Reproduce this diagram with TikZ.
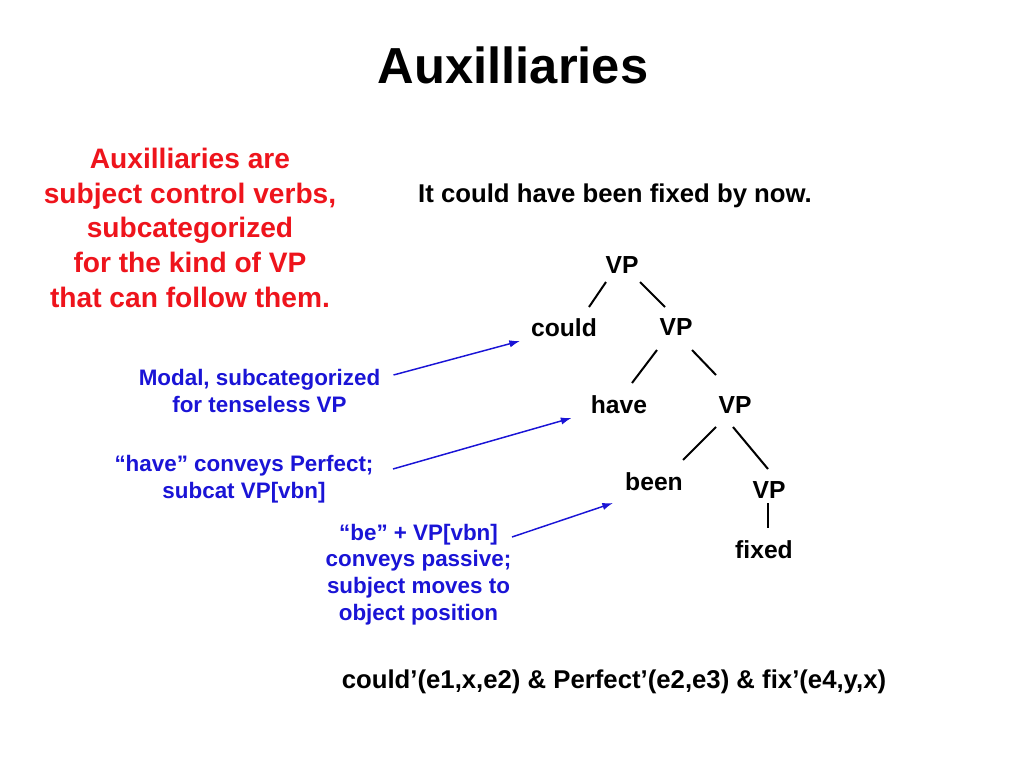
\documentclass[tikz,border=0pt]{standalone}
\usepackage{fontspec}
\setmainfont{Liberation Sans}
\usetikzlibrary{arrows.meta}

\definecolor{claimred}{RGB}{238,20,28}
\definecolor{noteblue}{RGB}{26,20,214}

\begin{document}
\begin{tikzpicture}[x=0.75pt,y=-0.75pt]

      \useasboundingbox (0,0) rectangle (1024,768);

      \node[anchor=base,font=\bfseries\fontsize{38}{44}\selectfont] (title) at (513,83) {Auxilliaries};

      % multi-line nodes: base is the baseline of the last line
      \node[anchor=base,align=center,text=claimred,font=\bfseries\fontsize{21.1}{25.9}\selectfont]
        (claim) at (190,307) {Auxilliaries are\\subject control verbs,\\subcategorized\\for the kind of VP\\that can follow them.};

      \node[anchor=base,font=\bfseries\fontsize{19.3}{23}\selectfont] (sentence) at (615,202) {It could have been fixed by now.};

      \begin{scope}[every node/.style={inner sep=0pt,font=\bfseries\fontsize{18.5}{22}\selectfont}]
        \node (vp1)   at (622,265) {VP};
        \node (could) at (564,328) {could};
        \node (vp2)   at (676,327) {VP};
        \node (have)  at (619,405) {have};
        \node (vp3)   at (735,405) {VP};
        \node (been)  at (654,482) {been};
        \node (vp4)   at (769,490) {VP};
        \node (fixed) at (764,550) {fixed};
      \end{scope}

      \begin{scope}[every node/.style={anchor=base,align=center,text=noteblue,font=\bfseries\fontsize{16.8}{19.9}\selectfont}]
        \node (modal)   at (259.5,412) {Modal, subcategorized\\for tenseless VP};
        \node (perfect) at (244,498) {``have'' conveys Perfect;\\subcat VP[vbn]};
        \node (passive) at (418.5,620) {``be'' + VP[vbn]\\conveys passive;\\subject moves to\\object position};
      \end{scope}

      \node[anchor=base,font=\bfseries\fontsize{19.3}{23}\selectfont] (logic) at (614,688)
        {could’(e1,x,e2) \& Perfect’(e2,e3) \& fix’(e4,y,x)};

      \begin{scope}[line width=1.5pt]
        \draw ([shift={(-16,17)}]vp1.center) -- ([shift={(25,-21)}]could.center);
        \draw ([shift={(18,17)}]vp1.center)  -- ([shift={(-11,-20)}]vp2.center);
        \draw ([shift={(-19,23)}]vp2.center) -- ([shift={(13,-22)}]have.center);
        \draw ([shift={(16,23)}]vp2.center)  -- ([shift={(-19,-30)}]vp3.center);
        \draw ([shift={(-19,22)}]vp3.center) -- ([shift={(29,-22)}]been.center);
        \draw ([shift={(-2,22)}]vp3.center)  -- ([shift={(-1,-21)}]vp4.center);
        \draw ([shift={(-1,13)}]vp4.center)  -- ([shift={(4,-22)}]fixed.center);
      \end{scope}

      \begin{scope}[noteblue,line width=1.1pt,-{Latex[length=8pt,width=5.5pt]}]
        \draw ([shift={(134,-37)}]modal.base)    -- ([shift={(-44,13)}]could.center);
        \draw ([shift={(149,-29)}]perfect.base)  -- ([shift={(-47.5,13)}]have.center);
        \draw ([shift={(93.5,-83)}]passive.base) -- ([shift={(-41,21)}]been.center);
      \end{scope}

    \end{tikzpicture}
\end{document}
